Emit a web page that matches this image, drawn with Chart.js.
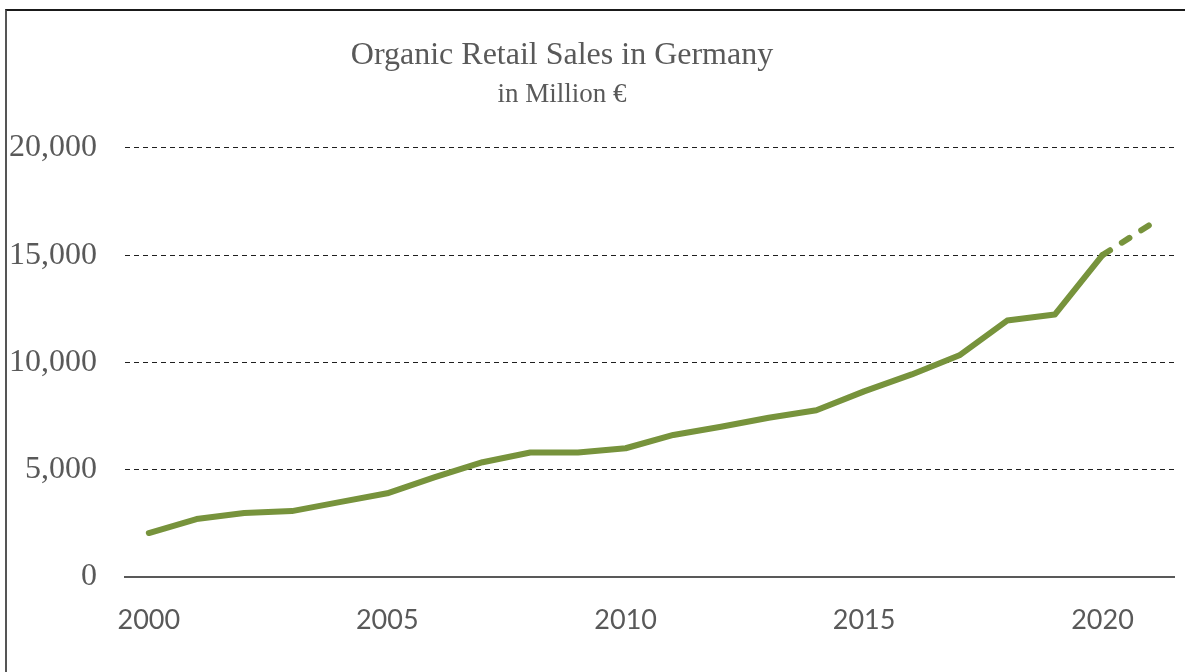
<!DOCTYPE html>
<html lang="en">
<head>
<meta charset="UTF-8">
<title>Organic Retail Sales in Germany</title>
<script src="https://cdn.jsdelivr.net/npm/chart.js"></script>
<style>
  html, body { margin: 0; padding: 0; background: #fff; }
  #wrap { position: relative; width: 1185px; height: 672px; overflow: hidden; }
  #frame { position: absolute; left: 5px; top: 9px; right: -10px; bottom: -10px;
           border-top: 2px solid #1a1a1a; border-left: 2px solid #555; pointer-events: none; }
  /* canvas sticks out 50px on the left so the title sits left of centre like the original */
  canvas { position: absolute; left: -50px; top: 0; }
</style>
</head>
<body>
<div id="wrap">
  <canvas id="salesChart" width="1235" height="672"></canvas>
  <div id="frame"></div>
</div>
<script>
  // years on the x axis, only every 5th one gets a label
  const years = [2000, 2001, 2002, 2003, 2004, 2005, 2006, 2007, 2008, 2009, 2010,
                 2011, 2012, 2013, 2014, 2015, 2016, 2017, 2018, 2019, 2020, 2021];
  // sales in million euro
  const sales = [2050, 2700, 2980, 3070, 3490, 3900, 4650, 5350, 5800, 5800, 6000,
                 6620, 7000, 7420, 7770, 8650, 9440, 10330, 11950, 12230, 15000, 16420];
  const yTicks = [0, 5000, 10000, 15000, 20000];

  const textGray = '#595959';
  const green = '#77933C';
  const lastIdx = sales.length - 1;

  const ctx = document.getElementById('salesChart').getContext('2d');
  const salesChart = new Chart(ctx, {
    type: 'line',
    data: {
      labels: years,
      datasets: [{
        label: 'Organic retail sales',
        data: sales,
        borderColor: green,
        borderWidth: 6,
        borderCapStyle: 'round',
        borderJoinStyle: 'round',
        pointRadius: 0,
        tension: 0,
        // last year is an estimate -> dashed
        segment: {
          borderDash: c => c.p1DataIndex === lastIdx ? [9, 14] : undefined
        }
      }]
    },
    options: {
      responsive: false,
      animation: false,
      layout: { padding: { left: 0, right: 11, top: 0, bottom: 0 } },
      plugins: {
        legend: { display: false },
        tooltip: { enabled: false },
        title: {
          display: true,
          text: 'Organic Retail Sales in Germany',
          color: textGray,
          font: { family: '"Liberation Serif", "Times New Roman", serif', size: 32, weight: 'normal' },
          padding: { top: 36, bottom: 4 }
        },
        subtitle: {
          display: true,
          text: 'in Million €',
          color: textGray,
          font: { family: '"Liberation Serif", "Times New Roman", serif', size: 27, weight: 'normal' },
          padding: { top: 0, bottom: 37 }
        }
      },
      scales: {
        x: {
          offset: true,
          grid: { display: false, drawTicks: false },
          border: { display: true, color: textGray, width: 2 },
          afterFit: s => { s.height = 95; },
          ticks: {
            autoSkip: false,
            maxRotation: 0,
            padding: 27,
            color: textGray,
            font: { family: 'Lato, "Open Sans", sans-serif', size: 27 },
            callback: (v, i) => (i % 5 === 0 ? String(years[i]) : '')
          }
        },
        y: {
          min: 0,
          max: 20000,
          afterFit: s => { s.width = 175; },
          afterBuildTicks: s => { s.ticks = yTicks.map(v => ({ value: v })); },
          border: { display: false, dash: [5, 4] },
          grid: {
            drawTicks: false,
            color: c => (c.tick && c.tick.value === 0 ? 'rgba(0,0,0,0)' : '#1f1f1f'),
            lineWidth: 1
          },
          ticks: {
            padding: 28,
            color: textGray,
            font: { family: '"Liberation Serif", "Times New Roman", serif', size: 32 },
            callback: v => v.toLocaleString('en-US')
          }
        }
      }
    }
  });
</script>
</body>
</html>
